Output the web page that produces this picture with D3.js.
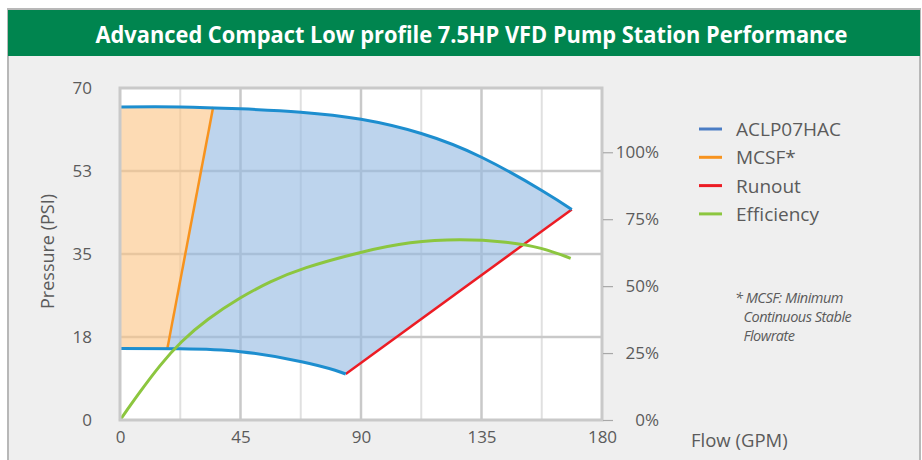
<!DOCTYPE html>
<html>
<head>
<meta charset="utf-8">
<script src="https://cdn.jsdelivr.net/npm/d3@7"></script>
<style>
  html, body { margin: 0; padding: 0; background: #ffffff; }
  svg { display: block; }
  text { font-family: "Open Sans", "Noto Sans", sans-serif; }
</style>
</head>
<body>
<svg id="chart" width="922" height="460"></svg>
<script>
// ---------- data ----------
const title = "Advanced Compact Low profile 7.5HP VFD Pump Station Performance";
const flowTicks = [0, 45, 90, 135, 180];
const flowMinorTicks = [22.5, 67.5, 112.5, 157.5];
const pressureTicks = [0, 17.5, 35, 52.5, 70];
const efficiencyTicks = [0, 25, 50, 75, 100];
// ACLP07HAC max-speed curve [flow GPM, pressure PSI]
const maxCurve = [[0, 66], [22.5, 66], [45, 65.6], [67.5, 64.9], [90, 63.4], [112.5, 60.4], [135, 55.4], [157.5, 48.4], [168.7, 44.4]];
// ACLP07HAC min-speed curve
const minCurve = [[0, 15.1], [22.5, 15.0], [45, 14.4], [67.8, 12.3], [80.3, 10.5], [84.3, 9.7]];
// MCSF line
const mcsfLine = [[17.7, 15.1], [34.8, 66]];
// Runout line
const runoutLine = [[84.3, 9.7], [168.7, 44.4]];
// Efficiency curve [flow GPM, efficiency %]
const efficiency = [[0, 0], [7.5, 10.6], [14.9, 20.5], [22.7, 29.3], [32.4, 37.6], [45.2, 46.0], [56, 51.7], [67.8, 56.7], [90.2, 62.9], [108.3, 66.6], [127, 67.7], [145, 66.6], [157.5, 64.4], [168.3, 60.4]];
const legendLabels = ["ACLP07HAC", "MCSF*", "Runout", "Efficiency"];
const footnoteLines = ["* MCSF: Minimum", "Continuous Stable", "Flowrate"];

// ---------- layout ----------
const svg = d3.select("#chart");
const plot = { left: 120, right: 602, top: 88, bottom: 420 };
const colors = {
  green: "#00854f",
  panel: "#efefef",
  grid: "#c9c9c9",
  gridMinor: "#e0e0e0",
  blue: "#1d8ecf",
  blueFill: "rgb(148,186,226)",
  orange: "#f7931e",
  orangeFill: "rgb(252,197,134)",
  red: "#ec1c24",
  effGreen: "#8cc63f",
  text: "#5b5b5b",
  legendBlue: "#4a7cc4"
};

// panel
svg.append("rect").attr("x", 8).attr("y", 9).attr("width", 912).attr("height", 460)
  .attr("fill", colors.panel).attr("stroke", "#b8b8b8").attr("stroke-width", 2);
svg.append("rect").attr("x", 8).attr("y", 10).attr("width", 912).attr("height", 46)
  .attr("fill", colors.green);
svg.append("text").attr("x", 471.5).attr("y", 42.5)
  .attr("text-anchor", "middle").attr("fill", "#ffffff")
  .attr("font-weight", "bold").attr("font-size", 24)
  .attr("textLength", 752).attr("lengthAdjust", "spacingAndGlyphs")
  .text(title);

// scales
const x = d3.scaleLinear().domain([0, 180]).range([plot.left, plot.right]);
const y = d3.scaleLinear().domain([0, 70]).range([plot.bottom, plot.top]);
const yR = d3.scaleLinear().domain([0, 124]).range([plot.bottom, plot.top]);

// plot background
svg.append("rect").attr("x", plot.left).attr("y", plot.top)
  .attr("width", plot.right - plot.left).attr("height", plot.bottom - plot.top)
  .attr("fill", "#ffffff");

// grid
const g = svg.append("g");
g.selectAll("line.vminor").data(flowMinorTicks).join("line")
  .attr("x1", d => x(d)).attr("x2", d => x(d)).attr("y1", plot.top).attr("y2", plot.bottom)
  .attr("stroke", colors.gridMinor).attr("stroke-width", 2);
g.selectAll("line.vmajor").data(flowTicks.slice(1, -1)).join("line")
  .attr("x1", d => x(d)).attr("x2", d => x(d)).attr("y1", plot.top).attr("y2", plot.bottom)
  .attr("stroke", colors.grid).attr("stroke-width", 2.5);
g.selectAll("line.h").data(pressureTicks.slice(1, -1)).join("line")
  .attr("x1", plot.left).attr("x2", plot.right).attr("y1", d => y(d)).attr("y2", d => y(d))
  .attr("stroke", colors.grid).attr("stroke-width", 2.5);

// line generators
const line = d3.line().x(d => x(d[0])).y(d => y(d[1])).curve(d3.curveNatural);
const straight = d3.line().x(d => x(d[0])).y(d => y(d[1]));
const effLine = d3.line().x(d => x(d[0])).y(d => yR(d[1])).curve(d3.curveBasis);

// envelope path (max curve -> runout -> min curve reversed)
const envelope = line(maxCurve) + line(minCurve.slice().reverse()).replace(/^M/, "L") + "Z";

// clip regions divided by MCSF line (extended to plot edges)
const [m0, m1] = mcsfLine;
const slope = (m1[0] - m0[0]) / (m1[1] - m0[1]);
const flowAt = p => m0[0] + (p - m0[1]) * slope;
const defs = svg.append("defs");
defs.append("clipPath").attr("id", "leftClip").append("path")
  .attr("d", `M${x(0)},${y(70)}L${x(flowAt(70))},${y(70)}L${x(flowAt(0))},${y(0)}L${x(0)},${y(0)}Z`);
defs.append("clipPath").attr("id", "rightClip").append("path")
  .attr("d", `M${x(flowAt(70))},${y(70)}L${x(180)},${y(70)}L${x(180)},${y(0)}L${x(flowAt(0))},${y(0)}Z`);

svg.append("path").attr("d", envelope).attr("fill", colors.blueFill).attr("fill-opacity", 0.62)
  .attr("clip-path", "url(#rightClip)");
svg.append("path").attr("d", envelope).attr("fill", colors.orangeFill).attr("fill-opacity", 0.62)
  .attr("clip-path", "url(#leftClip)");

// lines
svg.append("path").attr("d", straight(runoutLine)).attr("fill", "none")
  .attr("stroke", colors.red).attr("stroke-width", 2.5);
svg.append("path").attr("d", straight(mcsfLine)).attr("fill", "none")
  .attr("stroke", colors.orange).attr("stroke-width", 2.5);
svg.append("path").attr("d", line(maxCurve)).attr("fill", "none")
  .attr("stroke", colors.blue).attr("stroke-width", 3);
svg.append("path").attr("d", line(minCurve)).attr("fill", "none")
  .attr("stroke", colors.blue).attr("stroke-width", 3);
svg.append("path").attr("d", effLine(efficiency)).attr("fill", "none")
  .attr("stroke", colors.effGreen).attr("stroke-width", 3);

// plot border
svg.append("rect").attr("x", plot.left).attr("y", plot.top)
  .attr("width", plot.right - plot.left).attr("height", plot.bottom - plot.top)
  .attr("fill", "none").attr("stroke", colors.grid).attr("stroke-width", 3);

// axes
const styleAxis = sel => {
  sel.select(".domain").remove();
  sel.selectAll("text").attr("fill", colors.text).attr("font-size", 17)
    .attr("font-family", '"Open Sans", sans-serif');
};
svg.append("g").attr("transform", `translate(${plot.left},0)`)
  .call(d3.axisLeft(y).tickValues(pressureTicks).tickSize(0).tickPadding(28).tickFormat(d => Math.round(d)))
  .call(styleAxis);
svg.append("g").attr("transform", `translate(0,${plot.bottom})`)
  .call(d3.axisBottom(x).tickValues(flowTicks).tickSize(0).tickPadding(11).tickFormat(d3.format("d")))
  .call(styleAxis);
const rAxis = svg.append("g").attr("transform", `translate(${plot.right + 1},0)`)
  .call(d3.axisRight(yR).tickValues(efficiencyTicks).tickSize(10).tickFormat(d => d + "%"))
  .call(styleAxis);
rAxis.selectAll("line").attr("stroke", "#a8a8a8").attr("stroke-width", 1.2);
rAxis.selectAll("text").attr("text-anchor", "end").attr("x", 56);

// axis titles
svg.append("text").attr("transform", "translate(54,251.5) rotate(-90)")
  .attr("text-anchor", "middle").attr("fill", colors.text).attr("font-size", 18)
  .text("Pressure (PSI)");
svg.append("text").attr("x", 691).attr("y", 447)
  .attr("fill", colors.text).attr("font-size", 18.5)
  .text("Flow (GPM)");

// legend
const legendColors = [colors.legendBlue, colors.orange, colors.red, colors.effGreen];
const legend = svg.append("g");
const lg = legend.selectAll("g").data(legendLabels).join("g")
  .attr("transform", (d, i) => `translate(699,${129 + i * 28.3})`);
lg.append("line").attr("x1", 0).attr("x2", 23).attr("y1", 0).attr("y2", 0)
  .attr("stroke", (d, i) => legendColors[i]).attr("stroke-width", 3);
lg.append("text").attr("x", 37).attr("y", 7).attr("fill", colors.text)
  .attr("font-size", 19).text(d => d);

// footnote
svg.append("g").selectAll("text").data(footnoteLines).join("text")
  .attr("x", (d, i) => i === 0 ? 735 : 743.5)
  .attr("y", (d, i) => 303 + i * 19)
  .attr("fill", colors.text).attr("font-size", 14.5).attr("font-style", "italic")
  .attr("letter-spacing", -0.5)
  .text(d => d);
</script>
</body>
</html>
